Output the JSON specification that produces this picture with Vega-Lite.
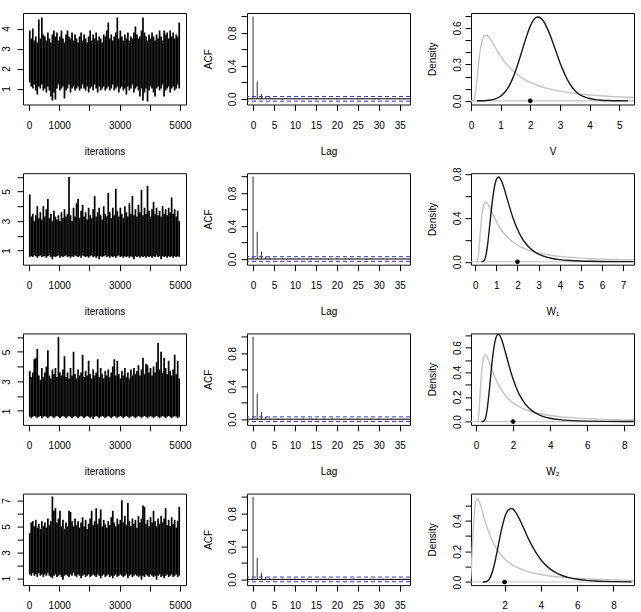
{
  "$schema": "https://vega.github.io/schema/vega-lite/v6.json",
  "padding": {"left": 0, "top": 12, "right": 0, "bottom": 0},
  "columns": 3,
  "spacing": {"row": 68.2, "column": 61},
  "bounds": "flush",
  "datasets": {
    "trace": [
      {"p":"V","i":25,"lo":1.3,"hi":3.9},{"p":"V","i":75,"lo":1.1,"hi":3.5},{"p":"V","i":125,"lo":1.0,"hi":4.0},{"p":"V","i":175,"lo":1.2,"hi":3.4},{"p":"V","i":225,"lo":0.9,"hi":3.6},
      {"p":"V","i":275,"lo":0.7,"hi":3.3},{"p":"V","i":325,"lo":1.1,"hi":4.45},{"p":"V","i":375,"lo":1.0,"hi":3.5},{"p":"V","i":425,"lo":1.2,"hi":4.55},{"p":"V","i":475,"lo":0.9,"hi":3.7},
      {"p":"V","i":525,"lo":1.0,"hi":3.6},{"p":"V","i":575,"lo":0.8,"hi":3.4},{"p":"V","i":625,"lo":1.1,"hi":3.8},{"p":"V","i":675,"lo":0.9,"hi":3.5},{"p":"V","i":725,"lo":0.6,"hi":3.3},
      {"p":"V","i":775,"lo":0.4,"hi":3.7},{"p":"V","i":825,"lo":0.8,"hi":3.9},{"p":"V","i":875,"lo":0.45,"hi":3.6},{"p":"V","i":925,"lo":1.0,"hi":3.8},{"p":"V","i":975,"lo":1.2,"hi":3.4},
      {"p":"V","i":1025,"lo":0.9,"hi":3.6},{"p":"V","i":1075,"lo":1.0,"hi":3.9},{"p":"V","i":1125,"lo":1.1,"hi":3.5},{"p":"V","i":1175,"lo":0.5,"hi":3.3},{"p":"V","i":1225,"lo":0.9,"hi":3.7},
      {"p":"V","i":1275,"lo":1.0,"hi":3.9},{"p":"V","i":1325,"lo":1.2,"hi":3.6},{"p":"V","i":1375,"lo":0.8,"hi":3.5},{"p":"V","i":1425,"lo":1.0,"hi":3.8},{"p":"V","i":1475,"lo":1.1,"hi":3.4},
      {"p":"V","i":1525,"lo":0.9,"hi":3.7},{"p":"V","i":1575,"lo":1.0,"hi":3.5},{"p":"V","i":1625,"lo":1.1,"hi":3.3},{"p":"V","i":1675,"lo":0.9,"hi":3.6},{"p":"V","i":1725,"lo":1.0,"hi":3.8},
      {"p":"V","i":1775,"lo":1.2,"hi":3.4},{"p":"V","i":1825,"lo":1.0,"hi":3.7},{"p":"V","i":1875,"lo":0.9,"hi":3.5},{"p":"V","i":1925,"lo":1.1,"hi":3.3},{"p":"V","i":1975,"lo":0.8,"hi":3.6},
      {"p":"V","i":2025,"lo":1.0,"hi":3.9},{"p":"V","i":2075,"lo":1.1,"hi":3.4},{"p":"V","i":2125,"lo":0.9,"hi":3.7},{"p":"V","i":2175,"lo":1.2,"hi":3.5},{"p":"V","i":2225,"lo":1.0,"hi":3.8},
      {"p":"V","i":2275,"lo":0.8,"hi":3.4},{"p":"V","i":2325,"lo":1.1,"hi":3.6},{"p":"V","i":2375,"lo":0.9,"hi":3.5},{"p":"V","i":2425,"lo":1.0,"hi":3.3},{"p":"V","i":2475,"lo":1.1,"hi":3.7},
      {"p":"V","i":2525,"lo":0.9,"hi":3.6},{"p":"V","i":2575,"lo":1.0,"hi":3.9},{"p":"V","i":2625,"lo":1.1,"hi":4.3},{"p":"V","i":2675,"lo":0.9,"hi":3.5},{"p":"V","i":2725,"lo":1.0,"hi":3.7},
      {"p":"V","i":2775,"lo":1.2,"hi":3.4},{"p":"V","i":2825,"lo":0.9,"hi":3.6},{"p":"V","i":2875,"lo":1.0,"hi":3.8},{"p":"V","i":2925,"lo":1.1,"hi":4.55},{"p":"V","i":2975,"lo":0.8,"hi":3.5},
      {"p":"V","i":3025,"lo":1.0,"hi":3.9},{"p":"V","i":3075,"lo":1.1,"hi":3.6},{"p":"V","i":3125,"lo":0.9,"hi":3.4},{"p":"V","i":3175,"lo":1.0,"hi":3.7},{"p":"V","i":3225,"lo":0.7,"hi":3.5},
      {"p":"V","i":3275,"lo":1.1,"hi":3.8},{"p":"V","i":3325,"lo":0.9,"hi":3.4},{"p":"V","i":3375,"lo":1.0,"hi":3.6},{"p":"V","i":3425,"lo":1.2,"hi":3.5},{"p":"V","i":3475,"lo":0.8,"hi":3.8},
      {"p":"V","i":3525,"lo":1.0,"hi":4.1},{"p":"V","i":3575,"lo":1.1,"hi":3.7},{"p":"V","i":3625,"lo":0.9,"hi":3.5},{"p":"V","i":3675,"lo":0.6,"hi":3.6},{"p":"V","i":3725,"lo":1.0,"hi":3.9},
      {"p":"V","i":3775,"lo":0.4,"hi":4.55},{"p":"V","i":3825,"lo":0.8,"hi":3.8},{"p":"V","i":3875,"lo":1.0,"hi":3.6},{"p":"V","i":3925,"lo":0.35,"hi":3.4},{"p":"V","i":3975,"lo":0.9,"hi":3.7},
      {"p":"V","i":4025,"lo":1.1,"hi":3.5},{"p":"V","i":4075,"lo":1.0,"hi":3.8},{"p":"V","i":4125,"lo":0.8,"hi":3.6},{"p":"V","i":4175,"lo":0.6,"hi":3.4},{"p":"V","i":4225,"lo":1.0,"hi":3.7},
      {"p":"V","i":4275,"lo":1.1,"hi":3.5},{"p":"V","i":4325,"lo":0.9,"hi":3.9},{"p":"V","i":4375,"lo":1.0,"hi":3.6},{"p":"V","i":4425,"lo":1.2,"hi":3.4},{"p":"V","i":4475,"lo":0.6,"hi":3.9},
      {"p":"V","i":4525,"lo":0.9,"hi":3.7},{"p":"V","i":4575,"lo":1.0,"hi":3.8},{"p":"V","i":4625,"lo":1.1,"hi":3.5},{"p":"V","i":4675,"lo":0.8,"hi":3.9},{"p":"V","i":4725,"lo":1.0,"hi":3.6},
      {"p":"V","i":4775,"lo":1.1,"hi":3.8},{"p":"V","i":4825,"lo":0.9,"hi":3.5},{"p":"V","i":4875,"lo":1.0,"hi":3.7},{"p":"V","i":4925,"lo":1.2,"hi":3.6},{"p":"V","i":4975,"lo":1.0,"hi":4.3},

      {"p":"W1","i":25,"lo":0.55,"hi":4.8},{"p":"W1","i":75,"lo":0.6,"hi":3.3},{"p":"W1","i":125,"lo":0.55,"hi":3.5},{"p":"W1","i":175,"lo":0.65,"hi":3.0},{"p":"W1","i":225,"lo":0.6,"hi":3.4},
      {"p":"W1","i":275,"lo":0.5,"hi":4.0},{"p":"W1","i":325,"lo":0.6,"hi":3.2},{"p":"W1","i":375,"lo":0.65,"hi":3.6},{"p":"W1","i":425,"lo":0.55,"hi":3.1},{"p":"W1","i":475,"lo":0.6,"hi":4.0},
      {"p":"W1","i":525,"lo":0.6,"hi":3.3},{"p":"W1","i":575,"lo":0.5,"hi":3.8},{"p":"W1","i":625,"lo":0.6,"hi":4.5},{"p":"W1","i":675,"lo":0.65,"hi":3.2},{"p":"W1","i":725,"lo":0.55,"hi":3.5},
      {"p":"W1","i":775,"lo":0.4,"hi":3.0},{"p":"W1","i":825,"lo":0.6,"hi":3.7},{"p":"W1","i":875,"lo":0.55,"hi":3.3},{"p":"W1","i":925,"lo":0.6,"hi":3.1},{"p":"W1","i":975,"lo":0.65,"hi":3.4},
      {"p":"W1","i":1025,"lo":0.5,"hi":3.0},{"p":"W1","i":1075,"lo":0.6,"hi":3.6},{"p":"W1","i":1125,"lo":0.55,"hi":3.2},{"p":"W1","i":1175,"lo":0.6,"hi":3.8},{"p":"W1","i":1225,"lo":0.65,"hi":3.3},
      {"p":"W1","i":1275,"lo":0.55,"hi":3.5},{"p":"W1","i":1325,"lo":0.6,"hi":6.0},{"p":"W1","i":1375,"lo":0.5,"hi":3.4},{"p":"W1","i":1425,"lo":0.6,"hi":3.0},{"p":"W1","i":1475,"lo":0.55,"hi":3.9},
      {"p":"W1","i":1525,"lo":0.65,"hi":3.3},{"p":"W1","i":1575,"lo":0.6,"hi":4.2},{"p":"W1","i":1625,"lo":0.55,"hi":4.5},{"p":"W1","i":1675,"lo":0.6,"hi":3.2},{"p":"W1","i":1725,"lo":0.5,"hi":3.7},
      {"p":"W1","i":1775,"lo":0.65,"hi":4.1},{"p":"W1","i":1825,"lo":0.6,"hi":3.3},{"p":"W1","i":1875,"lo":0.55,"hi":3.6},{"p":"W1","i":1925,"lo":0.6,"hi":3.1},{"p":"W1","i":1975,"lo":0.5,"hi":3.9},
      {"p":"W1","i":2025,"lo":0.6,"hi":3.4},{"p":"W1","i":2075,"lo":0.65,"hi":3.2},{"p":"W1","i":2125,"lo":0.55,"hi":3.8},{"p":"W1","i":2175,"lo":0.6,"hi":4.7},{"p":"W1","i":2225,"lo":0.5,"hi":3.3},
      {"p":"W1","i":2275,"lo":0.6,"hi":3.6},{"p":"W1","i":2325,"lo":0.4,"hi":3.9},{"p":"W1","i":2375,"lo":0.6,"hi":3.4},{"p":"W1","i":2425,"lo":0.55,"hi":3.1},{"p":"W1","i":2475,"lo":0.6,"hi":4.0},
      {"p":"W1","i":2525,"lo":0.65,"hi":3.5},{"p":"W1","i":2575,"lo":0.55,"hi":3.3},{"p":"W1","i":2625,"lo":0.6,"hi":4.9},{"p":"W1","i":2675,"lo":0.5,"hi":3.6},{"p":"W1","i":2725,"lo":0.6,"hi":3.2},
      {"p":"W1","i":2775,"lo":0.55,"hi":3.9},{"p":"W1","i":2825,"lo":0.6,"hi":3.4},{"p":"W1","i":2875,"lo":0.5,"hi":5.2},{"p":"W1","i":2925,"lo":0.6,"hi":3.7},{"p":"W1","i":2975,"lo":0.65,"hi":3.3},
      {"p":"W1","i":3025,"lo":0.55,"hi":3.9},{"p":"W1","i":3075,"lo":0.6,"hi":3.5},{"p":"W1","i":3125,"lo":0.5,"hi":3.2},{"p":"W1","i":3175,"lo":0.6,"hi":4.0},{"p":"W1","i":3225,"lo":0.55,"hi":3.6},
      {"p":"W1","i":3275,"lo":0.6,"hi":3.3},{"p":"W1","i":3325,"lo":0.5,"hi":4.2},{"p":"W1","i":3375,"lo":0.6,"hi":3.5},{"p":"W1","i":3425,"lo":0.55,"hi":4.7},{"p":"W1","i":3475,"lo":0.4,"hi":3.4},
      {"p":"W1","i":3525,"lo":0.6,"hi":3.8},{"p":"W1","i":3575,"lo":0.55,"hi":3.3},{"p":"W1","i":3625,"lo":0.6,"hi":4.1},{"p":"W1","i":3675,"lo":0.5,"hi":3.6},{"p":"W1","i":3725,"lo":0.6,"hi":5.1},
      {"p":"W1","i":3775,"lo":0.55,"hi":3.4},{"p":"W1","i":3825,"lo":0.6,"hi":3.9},{"p":"W1","i":3875,"lo":0.5,"hi":3.5},{"p":"W1","i":3925,"lo":0.6,"hi":5.4},{"p":"W1","i":3975,"lo":0.55,"hi":3.7},
      {"p":"W1","i":4025,"lo":0.6,"hi":3.3},{"p":"W1","i":4075,"lo":0.5,"hi":3.8},{"p":"W1","i":4125,"lo":0.6,"hi":4.3},{"p":"W1","i":4175,"lo":0.55,"hi":3.5},{"p":"W1","i":4225,"lo":0.65,"hi":3.9},
      {"p":"W1","i":4275,"lo":0.55,"hi":3.4},{"p":"W1","i":4325,"lo":0.6,"hi":3.7},{"p":"W1","i":4375,"lo":0.4,"hi":3.3},{"p":"W1","i":4425,"lo":0.6,"hi":4.0},{"p":"W1","i":4475,"lo":0.55,"hi":3.5},
      {"p":"W1","i":4525,"lo":0.6,"hi":3.8},{"p":"W1","i":4575,"lo":0.5,"hi":3.4},{"p":"W1","i":4625,"lo":0.6,"hi":3.9},{"p":"W1","i":4675,"lo":0.55,"hi":3.6},{"p":"W1","i":4725,"lo":0.6,"hi":4.6},
      {"p":"W1","i":4775,"lo":0.5,"hi":3.5},{"p":"W1","i":4825,"lo":0.6,"hi":3.8},{"p":"W1","i":4875,"lo":0.55,"hi":3.3},{"p":"W1","i":4925,"lo":0.6,"hi":3.7},{"p":"W1","i":4975,"lo":0.55,"hi":3.0},

      {"p":"W2","i":25,"lo":0.6,"hi":3.7},{"p":"W2","i":75,"lo":0.5,"hi":3.3},{"p":"W2","i":125,"lo":0.6,"hi":3.6},{"p":"W2","i":175,"lo":0.65,"hi":4.5},{"p":"W2","i":225,"lo":0.6,"hi":4.6},
      {"p":"W2","i":275,"lo":0.5,"hi":5.2},{"p":"W2","i":325,"lo":0.6,"hi":3.4},{"p":"W2","i":375,"lo":0.65,"hi":3.1},{"p":"W2","i":425,"lo":0.5,"hi":3.9},{"p":"W2","i":475,"lo":0.6,"hi":3.3},
      {"p":"W2","i":525,"lo":0.65,"hi":3.6},{"p":"W2","i":575,"lo":0.6,"hi":4.0},{"p":"W2","i":625,"lo":0.5,"hi":5.1},{"p":"W2","i":675,"lo":0.6,"hi":3.4},{"p":"W2","i":725,"lo":0.65,"hi":3.2},
      {"p":"W2","i":775,"lo":0.6,"hi":3.8},{"p":"W2","i":825,"lo":0.5,"hi":3.5},{"p":"W2","i":875,"lo":0.6,"hi":3.9},{"p":"W2","i":925,"lo":0.65,"hi":3.3},{"p":"W2","i":975,"lo":0.6,"hi":6.0},
      {"p":"W2","i":1025,"lo":0.5,"hi":3.6},{"p":"W2","i":1075,"lo":0.6,"hi":3.4},{"p":"W2","i":1125,"lo":0.65,"hi":3.8},{"p":"W2","i":1175,"lo":0.6,"hi":4.7},{"p":"W2","i":1225,"lo":0.5,"hi":3.3},
      {"p":"W2","i":1275,"lo":0.6,"hi":3.6},{"p":"W2","i":1325,"lo":0.65,"hi":3.2},{"p":"W2","i":1375,"lo":0.6,"hi":3.9},{"p":"W2","i":1425,"lo":0.5,"hi":3.4},{"p":"W2","i":1475,"lo":0.6,"hi":5.0},
      {"p":"W2","i":1525,"lo":0.65,"hi":3.5},{"p":"W2","i":1575,"lo":0.6,"hi":3.2},{"p":"W2","i":1625,"lo":0.5,"hi":3.8},{"p":"W2","i":1675,"lo":0.6,"hi":3.4},{"p":"W2","i":1725,"lo":0.65,"hi":3.6},
      {"p":"W2","i":1775,"lo":0.6,"hi":4.8},{"p":"W2","i":1825,"lo":0.5,"hi":3.3},{"p":"W2","i":1875,"lo":0.6,"hi":3.7},{"p":"W2","i":1925,"lo":0.65,"hi":3.4},{"p":"W2","i":1975,"lo":0.6,"hi":4.4},
      {"p":"W2","i":2025,"lo":0.5,"hi":3.5},{"p":"W2","i":2075,"lo":0.6,"hi":3.2},{"p":"W2","i":2125,"lo":0.45,"hi":3.8},{"p":"W2","i":2175,"lo":0.6,"hi":3.4},{"p":"W2","i":2225,"lo":0.65,"hi":3.6},
      {"p":"W2","i":2275,"lo":0.6,"hi":4.5},{"p":"W2","i":2325,"lo":0.5,"hi":3.3},{"p":"W2","i":2375,"lo":0.6,"hi":3.9},{"p":"W2","i":2425,"lo":0.65,"hi":3.5},{"p":"W2","i":2475,"lo":0.6,"hi":3.2},
      {"p":"W2","i":2525,"lo":0.5,"hi":3.7},{"p":"W2","i":2575,"lo":0.6,"hi":3.4},{"p":"W2","i":2625,"lo":0.65,"hi":3.8},{"p":"W2","i":2675,"lo":0.6,"hi":3.3},{"p":"W2","i":2725,"lo":0.5,"hi":3.6},
      {"p":"W2","i":2775,"lo":0.6,"hi":4.0},{"p":"W2","i":2825,"lo":0.65,"hi":4.5},{"p":"W2","i":2875,"lo":0.6,"hi":3.4},{"p":"W2","i":2925,"lo":0.5,"hi":4.4},{"p":"W2","i":2975,"lo":0.6,"hi":3.5},
      {"p":"W2","i":3025,"lo":0.65,"hi":3.2},{"p":"W2","i":3075,"lo":0.6,"hi":3.7},{"p":"W2","i":3125,"lo":0.5,"hi":3.4},{"p":"W2","i":3175,"lo":0.6,"hi":3.9},{"p":"W2","i":3225,"lo":0.65,"hi":3.3},
      {"p":"W2","i":3275,"lo":0.6,"hi":3.6},{"p":"W2","i":3325,"lo":0.5,"hi":3.2},{"p":"W2","i":3375,"lo":0.6,"hi":3.8},{"p":"W2","i":3425,"lo":0.65,"hi":3.4},{"p":"W2","i":3475,"lo":0.6,"hi":3.9},
      {"p":"W2","i":3525,"lo":0.5,"hi":3.5},{"p":"W2","i":3575,"lo":0.6,"hi":3.7},{"p":"W2","i":3625,"lo":0.65,"hi":4.1},{"p":"W2","i":3675,"lo":0.6,"hi":3.4},{"p":"W2","i":3725,"lo":0.5,"hi":3.8},
      {"p":"W2","i":3775,"lo":0.6,"hi":4.6},{"p":"W2","i":3825,"lo":0.65,"hi":3.5},{"p":"W2","i":3875,"lo":0.6,"hi":4.2},{"p":"W2","i":3925,"lo":0.5,"hi":4.1},{"p":"W2","i":3975,"lo":0.6,"hi":3.6},
      {"p":"W2","i":4025,"lo":0.65,"hi":3.9},{"p":"W2","i":4075,"lo":0.6,"hi":3.4},{"p":"W2","i":4125,"lo":0.5,"hi":4.0},{"p":"W2","i":4175,"lo":0.6,"hi":3.6},{"p":"W2","i":4225,"lo":0.65,"hi":4.3},
      {"p":"W2","i":4275,"lo":0.6,"hi":5.6},{"p":"W2","i":4325,"lo":0.5,"hi":3.8},{"p":"W2","i":4375,"lo":0.6,"hi":5.0},{"p":"W2","i":4425,"lo":0.65,"hi":3.6},{"p":"W2","i":4475,"lo":0.6,"hi":4.6},
      {"p":"W2","i":4525,"lo":0.5,"hi":3.9},{"p":"W2","i":4575,"lo":0.6,"hi":3.5},{"p":"W2","i":4625,"lo":0.65,"hi":4.4},{"p":"W2","i":4675,"lo":0.6,"hi":3.7},{"p":"W2","i":4725,"lo":0.5,"hi":3.4},
      {"p":"W2","i":4775,"lo":0.6,"hi":3.8},{"p":"W2","i":4825,"lo":0.65,"hi":4.8},{"p":"W2","i":4875,"lo":0.6,"hi":3.5},{"p":"W2","i":4925,"lo":0.5,"hi":4.4},{"p":"W2","i":4975,"lo":0.6,"hi":3.2},

      {"p":"theta","i":25,"lo":1.3,"hi":4.5},{"p":"theta","i":75,"lo":1.2,"hi":5.3},{"p":"theta","i":125,"lo":1.4,"hi":5.4},{"p":"theta","i":175,"lo":1.2,"hi":5.0},{"p":"theta","i":225,"lo":1.3,"hi":5.5},
      {"p":"theta","i":275,"lo":1.1,"hi":4.9},{"p":"theta","i":325,"lo":1.4,"hi":5.2},{"p":"theta","i":375,"lo":1.2,"hi":4.8},{"p":"theta","i":425,"lo":1.3,"hi":5.4},{"p":"theta","i":475,"lo":1.1,"hi":5.0},
      {"p":"theta","i":525,"lo":1.3,"hi":5.3},{"p":"theta","i":575,"lo":1.2,"hi":4.9},{"p":"theta","i":625,"lo":1.4,"hi":5.6},{"p":"theta","i":675,"lo":1.2,"hi":5.1},{"p":"theta","i":725,"lo":1.1,"hi":5.4},
      {"p":"theta","i":775,"lo":1.0,"hi":7.3},{"p":"theta","i":825,"lo":1.2,"hi":6.2},{"p":"theta","i":875,"lo":1.3,"hi":6.4},{"p":"theta","i":925,"lo":1.1,"hi":5.3},{"p":"theta","i":975,"lo":1.2,"hi":5.6},
      {"p":"theta","i":1025,"lo":1.3,"hi":6.2},{"p":"theta","i":1075,"lo":1.1,"hi":5.0},{"p":"theta","i":1125,"lo":0.9,"hi":5.5},{"p":"theta","i":1175,"lo":1.2,"hi":4.8},{"p":"theta","i":1225,"lo":1.3,"hi":5.3},
      {"p":"theta","i":1275,"lo":1.2,"hi":5.0},{"p":"theta","i":1325,"lo":1.1,"hi":6.2},{"p":"theta","i":1375,"lo":1.3,"hi":6.1},{"p":"theta","i":1425,"lo":1.2,"hi":5.4},{"p":"theta","i":1475,"lo":1.4,"hi":5.0},
      {"p":"theta","i":1525,"lo":1.2,"hi":5.6},{"p":"theta","i":1575,"lo":1.1,"hi":5.1},{"p":"theta","i":1625,"lo":1.3,"hi":5.4},{"p":"theta","i":1675,"lo":1.2,"hi":4.9},{"p":"theta","i":1725,"lo":1.0,"hi":5.3},
      {"p":"theta","i":1775,"lo":1.2,"hi":5.7},{"p":"theta","i":1825,"lo":1.3,"hi":5.0},{"p":"theta","i":1875,"lo":1.1,"hi":5.5},{"p":"theta","i":1925,"lo":1.2,"hi":4.8},{"p":"theta","i":1975,"lo":1.3,"hi":5.2},
      {"p":"theta","i":2025,"lo":1.1,"hi":5.6},{"p":"theta","i":2075,"lo":1.2,"hi":6.2},{"p":"theta","i":2125,"lo":1.3,"hi":5.1},{"p":"theta","i":2175,"lo":1.2,"hi":5.4},{"p":"theta","i":2225,"lo":1.1,"hi":6.4},
      {"p":"theta","i":2275,"lo":1.3,"hi":5.2},{"p":"theta","i":2325,"lo":1.2,"hi":5.6},{"p":"theta","i":2375,"lo":1.0,"hi":6.3},{"p":"theta","i":2425,"lo":1.2,"hi":5.0},{"p":"theta","i":2475,"lo":1.3,"hi":5.5},
      {"p":"theta","i":2525,"lo":1.1,"hi":5.2},{"p":"theta","i":2575,"lo":1.2,"hi":4.9},{"p":"theta","i":2625,"lo":1.3,"hi":5.4},{"p":"theta","i":2675,"lo":1.1,"hi":5.1},{"p":"theta","i":2725,"lo":1.2,"hi":5.7},
      {"p":"theta","i":2775,"lo":1.0,"hi":6.2},{"p":"theta","i":2825,"lo":1.2,"hi":5.3},{"p":"theta","i":2875,"lo":1.3,"hi":5.0},{"p":"theta","i":2925,"lo":1.1,"hi":5.6},{"p":"theta","i":2975,"lo":1.2,"hi":5.2},
      {"p":"theta","i":3025,"lo":1.3,"hi":5.5},{"p":"theta","i":3075,"lo":1.2,"hi":7.0},{"p":"theta","i":3125,"lo":1.1,"hi":5.3},{"p":"theta","i":3175,"lo":1.2,"hi":5.8},{"p":"theta","i":3225,"lo":1.3,"hi":5.1},
      {"p":"theta","i":3275,"lo":1.0,"hi":6.8},{"p":"theta","i":3325,"lo":1.2,"hi":5.4},{"p":"theta","i":3375,"lo":1.3,"hi":5.0},{"p":"theta","i":3425,"lo":1.1,"hi":5.6},{"p":"theta","i":3475,"lo":1.2,"hi":5.2},
      {"p":"theta","i":3525,"lo":1.3,"hi":5.5},{"p":"theta","i":3575,"lo":1.2,"hi":4.9},{"p":"theta","i":3625,"lo":1.1,"hi":5.8},{"p":"theta","i":3675,"lo":1.2,"hi":5.3},{"p":"theta","i":3725,"lo":0.9,"hi":5.6},
      {"p":"theta","i":3775,"lo":1.2,"hi":6.6},{"p":"theta","i":3825,"lo":1.1,"hi":6.5},{"p":"theta","i":3875,"lo":1.3,"hi":5.2},{"p":"theta","i":3925,"lo":1.2,"hi":5.5},{"p":"theta","i":3975,"lo":1.1,"hi":5.0},
      {"p":"theta","i":4025,"lo":1.3,"hi":5.7},{"p":"theta","i":4075,"lo":1.2,"hi":5.3},{"p":"theta","i":4125,"lo":1.1,"hi":6.2},{"p":"theta","i":4175,"lo":1.2,"hi":5.4},{"p":"theta","i":4225,"lo":0.9,"hi":5.0},
      {"p":"theta","i":4275,"lo":1.2,"hi":5.6},{"p":"theta","i":4325,"lo":1.3,"hi":5.2},{"p":"theta","i":4375,"lo":1.1,"hi":5.8},{"p":"theta","i":4425,"lo":1.2,"hi":5.3},{"p":"theta","i":4475,"lo":1.0,"hi":5.6},
      {"p":"theta","i":4525,"lo":1.2,"hi":6.4},{"p":"theta","i":4575,"lo":1.3,"hi":5.1},{"p":"theta","i":4625,"lo":1.1,"hi":5.5},{"p":"theta","i":4675,"lo":1.2,"hi":5.0},{"p":"theta","i":4725,"lo":1.3,"hi":5.7},
      {"p":"theta","i":4775,"lo":1.1,"hi":5.2},{"p":"theta","i":4825,"lo":1.2,"hi":5.5},{"p":"theta","i":4875,"lo":1.3,"hi":4.9},{"p":"theta","i":4925,"lo":1.1,"hi":5.4},{"p":"theta","i":4975,"lo":1.2,"hi":6.5}
    ],
    "acf": [
      {"p":"V","lag":0,"r":1},{"p":"V","lag":1,"r":0.21},{"p":"V","lag":2,"r":0.06},{"p":"V","lag":3,"r":0.03},{"p":"V","lag":4,"r":0.02},{"p":"V","lag":5,"r":0.01},{"p":"V","lag":6,"r":0.0},{"p":"V","lag":7,"r":-0.01},{"p":"V","lag":8,"r":0.01},{"p":"V","lag":9,"r":0.0},{"p":"V","lag":10,"r":0.01},{"p":"V","lag":11,"r":-0.01},{"p":"V","lag":12,"r":0.0},{"p":"V","lag":13,"r":0.01},{"p":"V","lag":14,"r":0.0},{"p":"V","lag":15,"r":-0.01},{"p":"V","lag":16,"r":0.0},{"p":"V","lag":17,"r":0.01},{"p":"V","lag":18,"r":0.01},{"p":"V","lag":19,"r":0.0},{"p":"V","lag":20,"r":-0.01},{"p":"V","lag":21,"r":0.0},{"p":"V","lag":22,"r":0.01},{"p":"V","lag":23,"r":0.0},{"p":"V","lag":24,"r":0.0},{"p":"V","lag":25,"r":-0.01},{"p":"V","lag":26,"r":0.01},{"p":"V","lag":27,"r":0.0},{"p":"V","lag":28,"r":0.0},{"p":"V","lag":29,"r":0.01},{"p":"V","lag":30,"r":-0.01},{"p":"V","lag":31,"r":0.0},{"p":"V","lag":32,"r":0.01},{"p":"V","lag":33,"r":0.0},{"p":"V","lag":34,"r":0.0},{"p":"V","lag":35,"r":0.01},{"p":"V","lag":36,"r":-0.01},
      {"p":"W1","lag":0,"r":1},{"p":"W1","lag":1,"r":0.33},{"p":"W1","lag":2,"r":0.09},{"p":"W1","lag":3,"r":0.03},{"p":"W1","lag":4,"r":0.02},{"p":"W1","lag":5,"r":0.01},{"p":"W1","lag":6,"r":0.0},{"p":"W1","lag":7,"r":0.01},{"p":"W1","lag":8,"r":-0.01},{"p":"W1","lag":9,"r":0.01},{"p":"W1","lag":10,"r":0.0},{"p":"W1","lag":11,"r":0.01},{"p":"W1","lag":12,"r":0.0},{"p":"W1","lag":13,"r":-0.01},{"p":"W1","lag":14,"r":0.01},{"p":"W1","lag":15,"r":0.0},{"p":"W1","lag":16,"r":0.01},{"p":"W1","lag":17,"r":0.0},{"p":"W1","lag":18,"r":-0.01},{"p":"W1","lag":19,"r":0.0},{"p":"W1","lag":20,"r":0.01},{"p":"W1","lag":21,"r":0.0},{"p":"W1","lag":22,"r":0.01},{"p":"W1","lag":23,"r":-0.01},{"p":"W1","lag":24,"r":0.0},{"p":"W1","lag":25,"r":0.01},{"p":"W1","lag":26,"r":0.0},{"p":"W1","lag":27,"r":-0.01},{"p":"W1","lag":28,"r":0.01},{"p":"W1","lag":29,"r":0.0},{"p":"W1","lag":30,"r":0.0},{"p":"W1","lag":31,"r":0.01},{"p":"W1","lag":32,"r":-0.01},{"p":"W1","lag":33,"r":0.0},{"p":"W1","lag":34,"r":0.01},{"p":"W1","lag":35,"r":0.0},{"p":"W1","lag":36,"r":0.01},
      {"p":"W2","lag":0,"r":1},{"p":"W2","lag":1,"r":0.31},{"p":"W2","lag":2,"r":0.09},{"p":"W2","lag":3,"r":0.03},{"p":"W2","lag":4,"r":0.01},{"p":"W2","lag":5,"r":0.0},{"p":"W2","lag":6,"r":0.01},{"p":"W2","lag":7,"r":-0.01},{"p":"W2","lag":8,"r":0.0},{"p":"W2","lag":9,"r":0.01},{"p":"W2","lag":10,"r":0.0},{"p":"W2","lag":11,"r":-0.01},{"p":"W2","lag":12,"r":0.01},{"p":"W2","lag":13,"r":0.0},{"p":"W2","lag":14,"r":0.01},{"p":"W2","lag":15,"r":-0.01},{"p":"W2","lag":16,"r":0.0},{"p":"W2","lag":17,"r":0.01},{"p":"W2","lag":18,"r":0.0},{"p":"W2","lag":19,"r":0.01},{"p":"W2","lag":20,"r":0.0},{"p":"W2","lag":21,"r":-0.01},{"p":"W2","lag":22,"r":0.0},{"p":"W2","lag":23,"r":0.01},{"p":"W2","lag":24,"r":0.0},{"p":"W2","lag":25,"r":0.01},{"p":"W2","lag":26,"r":-0.01},{"p":"W2","lag":27,"r":0.0},{"p":"W2","lag":28,"r":0.01},{"p":"W2","lag":29,"r":0.0},{"p":"W2","lag":30,"r":0.01},{"p":"W2","lag":31,"r":0.0},{"p":"W2","lag":32,"r":-0.01},{"p":"W2","lag":33,"r":0.01},{"p":"W2","lag":34,"r":0.0},{"p":"W2","lag":35,"r":0.0},{"p":"W2","lag":36,"r":0.01},
      {"p":"theta","lag":0,"r":1},{"p":"theta","lag":1,"r":0.26},{"p":"theta","lag":2,"r":0.08},{"p":"theta","lag":3,"r":0.03},{"p":"theta","lag":4,"r":0.02},{"p":"theta","lag":5,"r":0.01},{"p":"theta","lag":6,"r":0.0},{"p":"theta","lag":7,"r":0.01},{"p":"theta","lag":8,"r":0.0},{"p":"theta","lag":9,"r":-0.01},{"p":"theta","lag":10,"r":0.01},{"p":"theta","lag":11,"r":0.0},{"p":"theta","lag":12,"r":0.0},{"p":"theta","lag":13,"r":0.01},{"p":"theta","lag":14,"r":-0.01},{"p":"theta","lag":15,"r":0.0},{"p":"theta","lag":16,"r":0.01},{"p":"theta","lag":17,"r":0.0},{"p":"theta","lag":18,"r":0.01},{"p":"theta","lag":19,"r":0.0},{"p":"theta","lag":20,"r":-0.01},{"p":"theta","lag":21,"r":0.0},{"p":"theta","lag":22,"r":0.01},{"p":"theta","lag":23,"r":0.0},{"p":"theta","lag":24,"r":0.01},{"p":"theta","lag":25,"r":-0.01},{"p":"theta","lag":26,"r":0.0},{"p":"theta","lag":27,"r":0.0},{"p":"theta","lag":28,"r":0.01},{"p":"theta","lag":29,"r":0.0},{"p":"theta","lag":30,"r":-0.01},{"p":"theta","lag":31,"r":0.01},{"p":"theta","lag":32,"r":0.0},{"p":"theta","lag":33,"r":0.01},{"p":"theta","lag":34,"r":0.0},{"p":"theta","lag":35,"r":-0.01},{"p":"theta","lag":36,"r":0.01}
    ],
    "post": [
      {"p":"V","x":0.2,"d":0.0003},{"p":"V","x":0.4,"d":0.0012},{"p":"V","x":0.6,"d":0.0045},{"p":"V","x":0.8,"d":0.014},{"p":"V","x":1.0,"d":0.038},{"p":"V","x":1.1,"d":0.06},{"p":"V","x":1.2,"d":0.09},{"p":"V","x":1.3,"d":0.13},{"p":"V","x":1.4,"d":0.181},{"p":"V","x":1.5,"d":0.244},{"p":"V","x":1.6,"d":0.316},{"p":"V","x":1.7,"d":0.394},{"p":"V","x":1.8,"d":0.474},{"p":"V","x":1.9,"d":0.55},{"p":"V","x":2.0,"d":0.615},{"p":"V","x":2.1,"d":0.662},{"p":"V","x":2.2,"d":0.687},{"p":"V","x":2.25,"d":0.69},{"p":"V","x":2.3,"d":0.688},{"p":"V","x":2.4,"d":0.669},{"p":"V","x":2.5,"d":0.633},{"p":"V","x":2.6,"d":0.582},{"p":"V","x":2.7,"d":0.521},{"p":"V","x":2.8,"d":0.453},{"p":"V","x":2.9,"d":0.384},{"p":"V","x":3.0,"d":0.316},{"p":"V","x":3.1,"d":0.255},{"p":"V","x":3.2,"d":0.2},{"p":"V","x":3.3,"d":0.154},{"p":"V","x":3.4,"d":0.116},{"p":"V","x":3.5,"d":0.086},{"p":"V","x":3.6,"d":0.063},{"p":"V","x":3.7,"d":0.047},{"p":"V","x":3.8,"d":0.035},{"p":"V","x":3.9,"d":0.026},{"p":"V","x":4.0,"d":0.019},{"p":"V","x":4.2,"d":0.01},{"p":"V","x":4.4,"d":0.005},{"p":"V","x":4.6,"d":0.0025},{"p":"V","x":4.8,"d":0.001},{"p":"V","x":5.0,"d":0.0004},{"p":"V","x":5.3,"d":0.0001},
      {"p":"W1","x":0.3,"d":0.0001},{"p":"W1","x":0.4,"d":0.0064},{"p":"W1","x":0.5,"d":0.0531},{"p":"W1","x":0.6,"d":0.176},{"p":"W1","x":0.7,"d":0.355},{"p":"W1","x":0.8,"d":0.534},{"p":"W1","x":0.9,"d":0.671},{"p":"W1","x":1.0,"d":0.748},{"p":"W1","x":1.1,"d":0.771},{"p":"W1","x":1.2,"d":0.753},{"p":"W1","x":1.3,"d":0.708},{"p":"W1","x":1.4,"d":0.648},{"p":"W1","x":1.5,"d":0.581},{"p":"W1","x":1.6,"d":0.515},{"p":"W1","x":1.7,"d":0.452},{"p":"W1","x":1.8,"d":0.393},{"p":"W1","x":2.0,"d":0.295},{"p":"W1","x":2.2,"d":0.22},{"p":"W1","x":2.4,"d":0.164},{"p":"W1","x":2.6,"d":0.122},{"p":"W1","x":2.8,"d":0.092},{"p":"W1","x":3.0,"d":0.07},{"p":"W1","x":3.3,"d":0.0466},{"p":"W1","x":3.6,"d":0.0317},{"p":"W1","x":4.0,"d":0.0195},{"p":"W1","x":4.5,"d":0.0111},{"p":"W1","x":5.0,"d":0.0065},{"p":"W1","x":5.5,"d":0.004},{"p":"W1","x":6.0,"d":0.0025},{"p":"W1","x":7.0,"d":0.0011},{"p":"W1","x":7.5,"d":0.0007},
      {"p":"W2","x":0.3,"d":0.0},{"p":"W2","x":0.4,"d":0.002},{"p":"W2","x":0.5,"d":0.0234},{"p":"W2","x":0.6,"d":0.0963},{"p":"W2","x":0.7,"d":0.2265},{"p":"W2","x":0.8,"d":0.383},{"p":"W2","x":0.9,"d":0.526},{"p":"W2","x":1.0,"d":0.631},{"p":"W2","x":1.1,"d":0.69},{"p":"W2","x":1.2,"d":0.708},{"p":"W2","x":1.3,"d":0.694},{"p":"W2","x":1.4,"d":0.658},{"p":"W2","x":1.5,"d":0.609},{"p":"W2","x":1.6,"d":0.554},{"p":"W2","x":1.8,"d":0.443},{"p":"W2","x":2.0,"d":0.345},{"p":"W2","x":2.2,"d":0.264},{"p":"W2","x":2.4,"d":0.2017},{"p":"W2","x":2.6,"d":0.154},{"p":"W2","x":2.8,"d":0.118},{"p":"W2","x":3.0,"d":0.0906},{"p":"W2","x":3.3,"d":0.0618},{"p":"W2","x":3.6,"d":0.0427},{"p":"W2","x":4.0,"d":0.0268},{"p":"W2","x":4.5,"d":0.0155},{"p":"W2","x":5.0,"d":0.0093},{"p":"W2","x":5.5,"d":0.0058},{"p":"W2","x":6.0,"d":0.0037},{"p":"W2","x":7.0,"d":0.0016},{"p":"W2","x":8.0,"d":0.0008},{"p":"W2","x":8.5,"d":0.0005},
      {"p":"theta","x":0.8,"d":0.0001},{"p":"theta","x":1.0,"d":0.0034},{"p":"theta","x":1.2,"d":0.0274},{"p":"theta","x":1.4,"d":0.096},{"p":"theta","x":1.6,"d":0.206},{"p":"theta","x":1.8,"d":0.324},{"p":"theta","x":2.0,"d":0.418},{"p":"theta","x":2.2,"d":0.468},{"p":"theta","x":2.4,"d":0.478},{"p":"theta","x":2.6,"d":0.456},{"p":"theta","x":2.8,"d":0.414},{"p":"theta","x":3.0,"d":0.364},{"p":"theta","x":3.2,"d":0.311},{"p":"theta","x":3.4,"d":0.261},{"p":"theta","x":3.6,"d":0.217},{"p":"theta","x":3.8,"d":0.178},{"p":"theta","x":4.0,"d":0.145},{"p":"theta","x":4.4,"d":0.0954},{"p":"theta","x":4.8,"d":0.0624},{"p":"theta","x":5.2,"d":0.0408},{"p":"theta","x":5.6,"d":0.0269},{"p":"theta","x":6.0,"d":0.0178},{"p":"theta","x":6.5,"d":0.0108},{"p":"theta","x":7.0,"d":0.0067},{"p":"theta","x":7.5,"d":0.0042},{"p":"theta","x":8.0,"d":0.0027},{"p":"theta","x":9.0,"d":0.0011}
    ],
    "prior": [
      {"x":0,"d":0},{"x":0.05,"d":0},{"x":0.1,"d":0.0045},{"x":0.15,"d":0.0566},{"x":0.2,"d":0.168},{"x":0.25,"d":0.293},{"x":0.3,"d":0.396},{"x":0.35,"d":0.469},{"x":0.4,"d":0.513},{"x":0.45,"d":0.535},{"x":0.5,"d":0.541},{"x":0.55,"d":0.537},{"x":0.6,"d":0.525},{"x":0.7,"d":0.489},{"x":0.8,"d":0.448},{"x":0.9,"d":0.406},{"x":1.0,"d":0.368},{"x":1.1,"d":0.333},{"x":1.2,"d":0.302},{"x":1.4,"d":0.25},{"x":1.6,"d":0.209},{"x":1.8,"d":0.177},{"x":2.0,"d":0.152},{"x":2.25,"d":0.1266},{"x":2.5,"d":0.107},{"x":2.75,"d":0.0919},{"x":3.0,"d":0.0796},{"x":3.5,"d":0.0613},{"x":4.0,"d":0.0487},{"x":4.5,"d":0.0395},{"x":5.0,"d":0.0327},{"x":5.5,"d":0.0276},{"x":6.0,"d":0.0235},{"x":6.5,"d":0.0203},{"x":7.0,"d":0.0177},{"x":7.5,"d":0.0156},{"x":8.0,"d":0.0138},{"x":8.5,"d":0.0123},{"x":9.0,"d":0.011},{"x":9.5,"d":0.01}
    ],
    "truth": [{"p":"V","x":2},{"p":"W1","x":2},{"p":"W2","x":2},{"p":"theta","x":2}]
  },
  "concat": [
    {
      "width": 163, "height": 91.5,
      "data": {"name": "trace"},
      "transform": [{"filter": "datum.p === 'V'"}],
      "mark": {"type": "rule", "color": "#000", "strokeWidth": 1.7, "clip": true},
      "encoding": {
        "x": {"field": "i", "type": "quantitative", "scale": {"domain": [-199, 5200], "nice": false, "zero": false},
              "axis": {"values": [0, 1000, 2000, 3000, 4000, 5000], "format": "d", "labelExpr": "datum.value == 2000 || datum.value == 4000 ? '' : datum.label", "title": "iterations", "titleX": 81.5, "titleY": 50}},
        "y": {"field": "lo", "type": "quantitative", "scale": {"domain": [0.2, 4.78], "nice": false, "zero": false},
              "axis": {"values": [1, 2, 3, 4], "format": "d", "title": null, "labelPadding": 8}},
        "y2": {"field": "hi"}
      }
    },
    {
      "width": 163, "height": 91.5,
      "layer": [
        {"data": {"name": "acf"}, "transform": [{"filter": "datum.p === 'V'"}],
         "mark": {"type": "rule", "color": "#333", "strokeWidth": 1},
         "encoding": {
           "x": {"field": "lag", "type": "quantitative", "scale": {"domain": [-1.44, 37.44], "nice": false, "zero": false},
                 "axis": {"values": [0, 5, 10, 15, 20, 25, 30, 35], "format": "d", "title": "Lag", "titleX": 81.5, "titleY": 50}},
           "y": {"field": "r", "type": "quantitative", "scale": {"domain": [-0.069, 1.041], "nice": false, "zero": false},
                 "axis": {"values": [0, 0.2, 0.4, 0.6, 0.8, 1], "format": ".1f", "labelExpr": "indexof(['0.0','0.4','0.8'], datum.label) >= 0 ? datum.label : ''", "title": "ACF", "titleX": -36, "titleY": 45.75, "labelPadding": 6}},
           "y2": {"datum": 0}}},
        {"data": {"values": [{"c": 0}, {"c": 0.0283}, {"c": -0.0283}]},
         "mark": {"type": "rule", "strokeWidth": 1},
         "encoding": {
           "y": {"field": "c", "type": "quantitative", "scale": {"domain": [-0.069, 1.041], "nice": false, "zero": false},
                 "axis": {"values": [0, 0.2, 0.4, 0.6, 0.8, 1], "format": ".1f", "labelExpr": "indexof(['0.0','0.4','0.8'], datum.label) >= 0 ? datum.label : ''", "title": "ACF", "titleX": -36, "titleY": 45.75, "labelPadding": 6}},
           "color": {"condition": {"test": "datum.c == 0", "value": "#000"}, "value": "#3333cc"},
           "strokeDash": {"condition": {"test": "datum.c == 0", "value": [1, 0]}, "value": [4, 3]}}}
      ]
    },
    {
      "width": 163, "height": 91.5,
      "layer": [
        {"data": {"name": "prior"}, "mark": {"type": "line", "color": "#c4c4c4", "strokeWidth": 1.4, "clip": true, "interpolate": "monotone"},
         "encoding": {
           "x": {"field": "x", "type": "quantitative", "scale": {"domain": [0, 5.5], "nice": false, "zero": false},
                 "axis": {"values": [0, 1, 2, 3, 4, 5], "format": "d", "title": "V", "titleX": 81.5, "titleY": 50}},
           "y": {"field": "d", "type": "quantitative", "scale": {"domain": [-0.03, 0.723], "nice": false, "zero": false},
                 "axis": {"values": [0, 0.1, 0.2, 0.3, 0.4, 0.5, 0.6, 0.7], "format": ".1f", "labelExpr": "indexof(['0.0','0.3','0.6'], datum.label) >= 0 ? datum.label : ''", "title": "Density", "titleX": -36, "titleY": 45.75, "labelPadding": 5}}}},
        {"data": {"name": "truth"}, "transform": [{"filter": "datum.p === 'V'"}], "mark": {"type": "rule", "color": "#c4c4c4", "strokeWidth": 1.2},
         "encoding": {"y": {"datum": 0, "type": "quantitative", "scale": {"domain": [-0.03, 0.723], "nice": false, "zero": false},
                 "axis": {"values": [0, 0.1, 0.2, 0.3, 0.4, 0.5, 0.6, 0.7], "format": ".1f", "labelExpr": "indexof(['0.0','0.3','0.6'], datum.label) >= 0 ? datum.label : ''", "title": "Density", "titleX": -36, "titleY": 45.75, "labelPadding": 5}}}},
        {"data": {"name": "post"}, "transform": [{"filter": "datum.p === 'V'"}], "mark": {"type": "line", "color": "#1a1a1a", "strokeWidth": 1.4, "clip": true, "interpolate": "monotone"},
         "encoding": {
           "x": {"field": "x", "type": "quantitative", "scale": {"domain": [0, 5.5], "nice": false, "zero": false},
                 "axis": {"values": [0, 1, 2, 3, 4, 5], "format": "d", "title": "V", "titleX": 81.5, "titleY": 50}},
           "y": {"field": "d", "type": "quantitative", "scale": {"domain": [-0.03, 0.723], "nice": false, "zero": false},
                 "axis": {"values": [0, 0.1, 0.2, 0.3, 0.4, 0.5, 0.6, 0.7], "format": ".1f", "labelExpr": "indexof(['0.0','0.3','0.6'], datum.label) >= 0 ? datum.label : ''", "title": "Density", "titleX": -36, "titleY": 45.75, "labelPadding": 5}}}},
        {"data": {"name": "truth"}, "transform": [{"filter": "datum.p === 'V'"}], "mark": {"type": "circle", "color": "#000", "size": 22, "opacity": 1},
         "encoding": {
           "x": {"field": "x", "type": "quantitative", "scale": {"domain": [0, 5.5], "nice": false, "zero": false},
                 "axis": {"values": [0, 1, 2, 3, 4, 5], "format": "d", "title": "V", "titleX": 81.5, "titleY": 50}},
           "y": {"datum": 0, "type": "quantitative", "scale": {"domain": [-0.03, 0.723], "nice": false, "zero": false},
                 "axis": {"values": [0, 0.1, 0.2, 0.3, 0.4, 0.5, 0.6, 0.7], "format": ".1f", "labelExpr": "indexof(['0.0','0.3','0.6'], datum.label) >= 0 ? datum.label : ''", "title": "Density", "titleX": -36, "titleY": 45.75, "labelPadding": 5}}}}
      ]
    },
    {
      "width": 163, "height": 91.5,
      "data": {"name": "trace"},
      "transform": [{"filter": "datum.p === 'W1'"}],
      "mark": {"type": "rule", "color": "#000", "strokeWidth": 1.7, "clip": true},
      "encoding": {
        "x": {"field": "i", "type": "quantitative", "scale": {"domain": [-199, 5200], "nice": false, "zero": false},
              "axis": {"values": [0, 1000, 2000, 3000, 4000, 5000], "format": "d", "labelExpr": "datum.value == 2000 || datum.value == 4000 ? '' : datum.label", "title": "iterations", "titleX": 81.5, "titleY": 50}},
        "y": {"field": "lo", "type": "quantitative", "scale": {"domain": [0.03, 6.25], "nice": false, "zero": false},
              "axis": {"values": [1, 2, 3, 4, 5, 6], "format": "d", "labelExpr": "datum.value % 2 == 1 ? datum.label : ''", "title": null, "labelPadding": 8}},
        "y2": {"field": "hi"}
      }
    },
    {
      "width": 163, "height": 91.5,
      "layer": [
        {"data": {"name": "acf"}, "transform": [{"filter": "datum.p === 'W1'"}],
         "mark": {"type": "rule", "color": "#333", "strokeWidth": 1},
         "encoding": {
           "x": {"field": "lag", "type": "quantitative", "scale": {"domain": [-1.44, 37.44], "nice": false, "zero": false},
                 "axis": {"values": [0, 5, 10, 15, 20, 25, 30, 35], "format": "d", "title": "Lag", "titleX": 81.5, "titleY": 50}},
           "y": {"field": "r", "type": "quantitative", "scale": {"domain": [-0.069, 1.041], "nice": false, "zero": false},
                 "axis": {"values": [0, 0.2, 0.4, 0.6, 0.8, 1], "format": ".1f", "labelExpr": "indexof(['0.0','0.4','0.8'], datum.label) >= 0 ? datum.label : ''", "title": "ACF", "titleX": -36, "titleY": 45.75, "labelPadding": 6}},
           "y2": {"datum": 0}}},
        {"data": {"values": [{"c": 0}, {"c": 0.0283}, {"c": -0.0283}]},
         "mark": {"type": "rule", "strokeWidth": 1},
         "encoding": {
           "y": {"field": "c", "type": "quantitative", "scale": {"domain": [-0.069, 1.041], "nice": false, "zero": false},
                 "axis": {"values": [0, 0.2, 0.4, 0.6, 0.8, 1], "format": ".1f", "labelExpr": "indexof(['0.0','0.4','0.8'], datum.label) >= 0 ? datum.label : ''", "title": "ACF", "titleX": -36, "titleY": 45.75, "labelPadding": 6}},
           "color": {"condition": {"test": "datum.c == 0", "value": "#000"}, "value": "#3333cc"},
           "strokeDash": {"condition": {"test": "datum.c == 0", "value": [1, 0]}, "value": [4, 3]}}}
      ]
    },
    {
      "width": 163, "height": 91.5,
      "layer": [
        {"data": {"name": "prior"}, "mark": {"type": "line", "color": "#c4c4c4", "strokeWidth": 1.4, "clip": true, "interpolate": "monotone"},
         "encoding": {
           "x": {"field": "x", "type": "quantitative", "scale": {"domain": [-0.2, 7.52], "nice": false, "zero": false},
                 "axis": {"values": [0, 1, 2, 3, 4, 5, 6, 7], "format": "d", "title": "W₁", "titleX": 81.5, "titleY": 50}},
           "y": {"field": "d", "type": "quantitative", "scale": {"domain": [-0.027, 0.806], "nice": false, "zero": false},
                 "axis": {"values": [0, 0.2, 0.4, 0.6, 0.8], "format": ".1f", "labelExpr": "indexof(['0.0','0.4','0.8'], datum.label) >= 0 ? datum.label : ''", "title": "Density", "titleX": -36, "titleY": 45.75, "labelPadding": 5}}}},
        {"data": {"name": "truth"}, "transform": [{"filter": "datum.p === 'W1'"}], "mark": {"type": "rule", "color": "#c4c4c4", "strokeWidth": 1.2},
         "encoding": {"y": {"datum": 0, "type": "quantitative", "scale": {"domain": [-0.027, 0.806], "nice": false, "zero": false},
                 "axis": {"values": [0, 0.2, 0.4, 0.6, 0.8], "format": ".1f", "labelExpr": "indexof(['0.0','0.4','0.8'], datum.label) >= 0 ? datum.label : ''", "title": "Density", "titleX": -36, "titleY": 45.75, "labelPadding": 5}}}},
        {"data": {"name": "post"}, "transform": [{"filter": "datum.p === 'W1'"}], "mark": {"type": "line", "color": "#1a1a1a", "strokeWidth": 1.4, "clip": true, "interpolate": "monotone"},
         "encoding": {
           "x": {"field": "x", "type": "quantitative", "scale": {"domain": [-0.2, 7.52], "nice": false, "zero": false},
                 "axis": {"values": [0, 1, 2, 3, 4, 5, 6, 7], "format": "d", "title": "W₁", "titleX": 81.5, "titleY": 50}},
           "y": {"field": "d", "type": "quantitative", "scale": {"domain": [-0.027, 0.806], "nice": false, "zero": false},
                 "axis": {"values": [0, 0.2, 0.4, 0.6, 0.8], "format": ".1f", "labelExpr": "indexof(['0.0','0.4','0.8'], datum.label) >= 0 ? datum.label : ''", "title": "Density", "titleX": -36, "titleY": 45.75, "labelPadding": 5}}}},
        {"data": {"name": "truth"}, "transform": [{"filter": "datum.p === 'W1'"}], "mark": {"type": "circle", "color": "#000", "size": 22, "opacity": 1},
         "encoding": {
           "x": {"field": "x", "type": "quantitative", "scale": {"domain": [-0.2, 7.52], "nice": false, "zero": false},
                 "axis": {"values": [0, 1, 2, 3, 4, 5, 6, 7], "format": "d", "title": "W₁", "titleX": 81.5, "titleY": 50}},
           "y": {"datum": 0, "type": "quantitative", "scale": {"domain": [-0.027, 0.806], "nice": false, "zero": false},
                 "axis": {"values": [0, 0.2, 0.4, 0.6, 0.8], "format": ".1f", "labelExpr": "indexof(['0.0','0.4','0.8'], datum.label) >= 0 ? datum.label : ''", "title": "Density", "titleX": -36, "titleY": 45.75, "labelPadding": 5}}}}
      ]
    },
    {
      "width": 163, "height": 91.5,
      "data": {"name": "trace"},
      "transform": [{"filter": "datum.p === 'W2'"}],
      "mark": {"type": "rule", "color": "#000", "strokeWidth": 1.7, "clip": true},
      "encoding": {
        "x": {"field": "i", "type": "quantitative", "scale": {"domain": [-199, 5200], "nice": false, "zero": false},
              "axis": {"values": [0, 1000, 2000, 3000, 4000, 5000], "format": "d", "labelExpr": "datum.value == 2000 || datum.value == 4000 ? '' : datum.label", "title": "iterations", "titleX": 81.5, "titleY": 50}},
        "y": {"field": "lo", "type": "quantitative", "scale": {"domain": [0.05, 6.25], "nice": false, "zero": false},
              "axis": {"values": [1, 2, 3, 4, 5, 6], "format": "d", "labelExpr": "datum.value % 2 == 1 ? datum.label : ''", "title": null, "labelPadding": 8}},
        "y2": {"field": "hi"}
      }
    },
    {
      "width": 163, "height": 91.5,
      "layer": [
        {"data": {"name": "acf"}, "transform": [{"filter": "datum.p === 'W2'"}],
         "mark": {"type": "rule", "color": "#333", "strokeWidth": 1},
         "encoding": {
           "x": {"field": "lag", "type": "quantitative", "scale": {"domain": [-1.44, 37.44], "nice": false, "zero": false},
                 "axis": {"values": [0, 5, 10, 15, 20, 25, 30, 35], "format": "d", "title": "Lag", "titleX": 81.5, "titleY": 50}},
           "y": {"field": "r", "type": "quantitative", "scale": {"domain": [-0.069, 1.041], "nice": false, "zero": false},
                 "axis": {"values": [0, 0.2, 0.4, 0.6, 0.8, 1], "format": ".1f", "labelExpr": "indexof(['0.0','0.4','0.8'], datum.label) >= 0 ? datum.label : ''", "title": "ACF", "titleX": -36, "titleY": 45.75, "labelPadding": 6}},
           "y2": {"datum": 0}}},
        {"data": {"values": [{"c": 0}, {"c": 0.0283}, {"c": -0.0283}]},
         "mark": {"type": "rule", "strokeWidth": 1},
         "encoding": {
           "y": {"field": "c", "type": "quantitative", "scale": {"domain": [-0.069, 1.041], "nice": false, "zero": false},
                 "axis": {"values": [0, 0.2, 0.4, 0.6, 0.8, 1], "format": ".1f", "labelExpr": "indexof(['0.0','0.4','0.8'], datum.label) >= 0 ? datum.label : ''", "title": "ACF", "titleX": -36, "titleY": 45.75, "labelPadding": 6}},
           "color": {"condition": {"test": "datum.c == 0", "value": "#000"}, "value": "#3333cc"},
           "strokeDash": {"condition": {"test": "datum.c == 0", "value": [1, 0]}, "value": [4, 3]}}}
      ]
    },
    {
      "width": 163, "height": 91.5,
      "layer": [
        {"data": {"name": "prior"}, "mark": {"type": "line", "color": "#c4c4c4", "strokeWidth": 1.4, "clip": true, "interpolate": "monotone"},
         "encoding": {
           "x": {"field": "x", "type": "quantitative", "scale": {"domain": [-0.27, 8.52], "nice": false, "zero": false},
                 "axis": {"values": [0, 2, 4, 6, 8], "format": "d", "title": "W₂", "titleX": 81.5, "titleY": 50}},
           "y": {"field": "d", "type": "quantitative", "scale": {"domain": [-0.027, 0.715], "nice": false, "zero": false},
                 "axis": {"values": [0, 0.1, 0.2, 0.3, 0.4, 0.5, 0.6, 0.7], "format": ".1f", "labelExpr": "indexof(['0.0','0.2','0.4','0.6'], datum.label) >= 0 ? datum.label : ''", "title": "Density", "titleX": -36, "titleY": 45.75, "labelPadding": 5}}}},
        {"data": {"name": "truth"}, "transform": [{"filter": "datum.p === 'W2'"}], "mark": {"type": "rule", "color": "#c4c4c4", "strokeWidth": 1.2},
         "encoding": {"y": {"datum": 0, "type": "quantitative", "scale": {"domain": [-0.027, 0.715], "nice": false, "zero": false},
                 "axis": {"values": [0, 0.1, 0.2, 0.3, 0.4, 0.5, 0.6, 0.7], "format": ".1f", "labelExpr": "indexof(['0.0','0.2','0.4','0.6'], datum.label) >= 0 ? datum.label : ''", "title": "Density", "titleX": -36, "titleY": 45.75, "labelPadding": 5}}}},
        {"data": {"name": "post"}, "transform": [{"filter": "datum.p === 'W2'"}], "mark": {"type": "line", "color": "#1a1a1a", "strokeWidth": 1.4, "clip": true, "interpolate": "monotone"},
         "encoding": {
           "x": {"field": "x", "type": "quantitative", "scale": {"domain": [-0.27, 8.52], "nice": false, "zero": false},
                 "axis": {"values": [0, 2, 4, 6, 8], "format": "d", "title": "W₂", "titleX": 81.5, "titleY": 50}},
           "y": {"field": "d", "type": "quantitative", "scale": {"domain": [-0.027, 0.715], "nice": false, "zero": false},
                 "axis": {"values": [0, 0.1, 0.2, 0.3, 0.4, 0.5, 0.6, 0.7], "format": ".1f", "labelExpr": "indexof(['0.0','0.2','0.4','0.6'], datum.label) >= 0 ? datum.label : ''", "title": "Density", "titleX": -36, "titleY": 45.75, "labelPadding": 5}}}},
        {"data": {"name": "truth"}, "transform": [{"filter": "datum.p === 'W2'"}], "mark": {"type": "circle", "color": "#000", "size": 22, "opacity": 1},
         "encoding": {
           "x": {"field": "x", "type": "quantitative", "scale": {"domain": [-0.27, 8.52], "nice": false, "zero": false},
                 "axis": {"values": [0, 2, 4, 6, 8], "format": "d", "title": "W₂", "titleX": 81.5, "titleY": 50}},
           "y": {"datum": 0, "type": "quantitative", "scale": {"domain": [-0.027, 0.715], "nice": false, "zero": false},
                 "axis": {"values": [0, 0.1, 0.2, 0.3, 0.4, 0.5, 0.6, 0.7], "format": ".1f", "labelExpr": "indexof(['0.0','0.2','0.4','0.6'], datum.label) >= 0 ? datum.label : ''", "title": "Density", "titleX": -36, "titleY": 45.75, "labelPadding": 5}}}}
      ]
    },
    {
      "width": 163, "height": 91.5,
      "data": {"name": "trace"},
      "transform": [{"filter": "datum.p === 'theta'"}],
      "mark": {"type": "rule", "color": "#000", "strokeWidth": 1.7, "clip": true},
      "encoding": {
        "x": {"field": "i", "type": "quantitative", "scale": {"domain": [-199, 5200], "nice": false, "zero": false},
              "axis": {"values": [0, 1000, 2000, 3000, 4000, 5000], "format": "d", "labelExpr": "datum.value == 2000 || datum.value == 4000 ? '' : datum.label", "title": null}},
        "y": {"field": "lo", "type": "quantitative", "scale": {"domain": [0.48, 7.52], "nice": false, "zero": false},
              "axis": {"values": [1, 2, 3, 4, 5, 6, 7], "format": "d", "labelExpr": "datum.value % 2 == 1 ? datum.label : ''", "title": null, "labelPadding": 8}},
        "y2": {"field": "hi"}
      }
    },
    {
      "width": 163, "height": 91.5,
      "layer": [
        {"data": {"name": "acf"}, "transform": [{"filter": "datum.p === 'theta'"}],
         "mark": {"type": "rule", "color": "#333", "strokeWidth": 1},
         "encoding": {
           "x": {"field": "lag", "type": "quantitative", "scale": {"domain": [-1.44, 37.44], "nice": false, "zero": false},
                 "axis": {"values": [0, 5, 10, 15, 20, 25, 30, 35], "format": "d", "title": null}},
           "y": {"field": "r", "type": "quantitative", "scale": {"domain": [-0.069, 1.041], "nice": false, "zero": false},
                 "axis": {"values": [0, 0.2, 0.4, 0.6, 0.8, 1], "format": ".1f", "labelExpr": "indexof(['0.0','0.4','0.8'], datum.label) >= 0 ? datum.label : ''", "title": "ACF", "titleX": -36, "titleY": 45.75, "labelPadding": 6}},
           "y2": {"datum": 0}}},
        {"data": {"values": [{"c": 0}, {"c": 0.0283}, {"c": -0.0283}]},
         "mark": {"type": "rule", "strokeWidth": 1},
         "encoding": {
           "y": {"field": "c", "type": "quantitative", "scale": {"domain": [-0.069, 1.041], "nice": false, "zero": false},
                 "axis": {"values": [0, 0.2, 0.4, 0.6, 0.8, 1], "format": ".1f", "labelExpr": "indexof(['0.0','0.4','0.8'], datum.label) >= 0 ? datum.label : ''", "title": "ACF", "titleX": -36, "titleY": 45.75, "labelPadding": 6}},
           "color": {"condition": {"test": "datum.c == 0", "value": "#000"}, "value": "#3333cc"},
           "strokeDash": {"condition": {"test": "datum.c == 0", "value": [1, 0]}, "value": [4, 3]}}}
      ]
    },
    {
      "width": 163, "height": 91.5,
      "layer": [
        {"data": {"name": "prior"}, "mark": {"type": "line", "color": "#c4c4c4", "strokeWidth": 1.4, "clip": true, "interpolate": "monotone"},
         "encoding": {
           "x": {"field": "x", "type": "quantitative", "scale": {"domain": [0.15, 9.13], "nice": false, "zero": false},
                 "axis": {"values": [2, 4, 6, 8], "format": "d", "title": null}},
           "y": {"field": "d", "type": "quantitative", "scale": {"domain": [-0.02, 0.575], "nice": false, "zero": false},
                 "axis": {"values": [0, 0.1, 0.2, 0.3, 0.4, 0.5], "format": ".1f", "labelExpr": "indexof(['0.0','0.2','0.4'], datum.label) >= 0 ? datum.label : ''", "title": "Density", "titleX": -36, "titleY": 45.75, "labelPadding": 5}}}},
        {"data": {"name": "truth"}, "transform": [{"filter": "datum.p === 'theta'"}], "mark": {"type": "rule", "color": "#c4c4c4", "strokeWidth": 1.2},
         "encoding": {"y": {"datum": 0, "type": "quantitative", "scale": {"domain": [-0.02, 0.575], "nice": false, "zero": false},
                 "axis": {"values": [0, 0.1, 0.2, 0.3, 0.4, 0.5], "format": ".1f", "labelExpr": "indexof(['0.0','0.2','0.4'], datum.label) >= 0 ? datum.label : ''", "title": "Density", "titleX": -36, "titleY": 45.75, "labelPadding": 5}}}},
        {"data": {"name": "post"}, "transform": [{"filter": "datum.p === 'theta'"}], "mark": {"type": "line", "color": "#1a1a1a", "strokeWidth": 1.4, "clip": true, "interpolate": "monotone"},
         "encoding": {
           "x": {"field": "x", "type": "quantitative", "scale": {"domain": [0.15, 9.13], "nice": false, "zero": false},
                 "axis": {"values": [2, 4, 6, 8], "format": "d", "title": null}},
           "y": {"field": "d", "type": "quantitative", "scale": {"domain": [-0.02, 0.575], "nice": false, "zero": false},
                 "axis": {"values": [0, 0.1, 0.2, 0.3, 0.4, 0.5], "format": ".1f", "labelExpr": "indexof(['0.0','0.2','0.4'], datum.label) >= 0 ? datum.label : ''", "title": "Density", "titleX": -36, "titleY": 45.75, "labelPadding": 5}}}},
        {"data": {"name": "truth"}, "transform": [{"filter": "datum.p === 'theta'"}], "mark": {"type": "circle", "color": "#000", "size": 22, "opacity": 1},
         "encoding": {
           "x": {"field": "x", "type": "quantitative", "scale": {"domain": [0.15, 9.13], "nice": false, "zero": false},
                 "axis": {"values": [2, 4, 6, 8], "format": "d", "title": null}},
           "y": {"datum": 0, "type": "quantitative", "scale": {"domain": [-0.02, 0.575], "nice": false, "zero": false},
                 "axis": {"values": [0, 0.1, 0.2, 0.3, 0.4, 0.5], "format": ".1f", "labelExpr": "indexof(['0.0','0.2','0.4'], datum.label) >= 0 ? datum.label : ''", "title": "Density", "titleX": -36, "titleY": 45.75, "labelPadding": 5}}}}
      ]
    }
  ],
  "config": {
    "font": "Liberation Sans",
    "view": {"stroke": "#111", "strokeWidth": 1},
    "axis": {
      "domain": false, "grid": false,
      "tickColor": "#000", "tickSize": 6, "tickWidth": 1,
      "labelFont": "Liberation Sans", "labelFontSize": 10, "labelColor": "#000",
      "labelOverlap": false, "labelFlush": false, "labelBound": false,
      "titleFont": "Liberation Sans", "titleFontSize": 10, "titleFontWeight": "normal", "titleColor": "#000",
      "titleBaseline": "alphabetic"
    },
    "axisX": {"labelBaseline": "alphabetic", "labelPadding": 17.5, "labelAngle": 0},
    "axisY": {"labelAngle": -90, "labelAlign": "center", "labelBaseline": "alphabetic", "titleAngle": -90, "titleAlign": "center"}
  }
}
